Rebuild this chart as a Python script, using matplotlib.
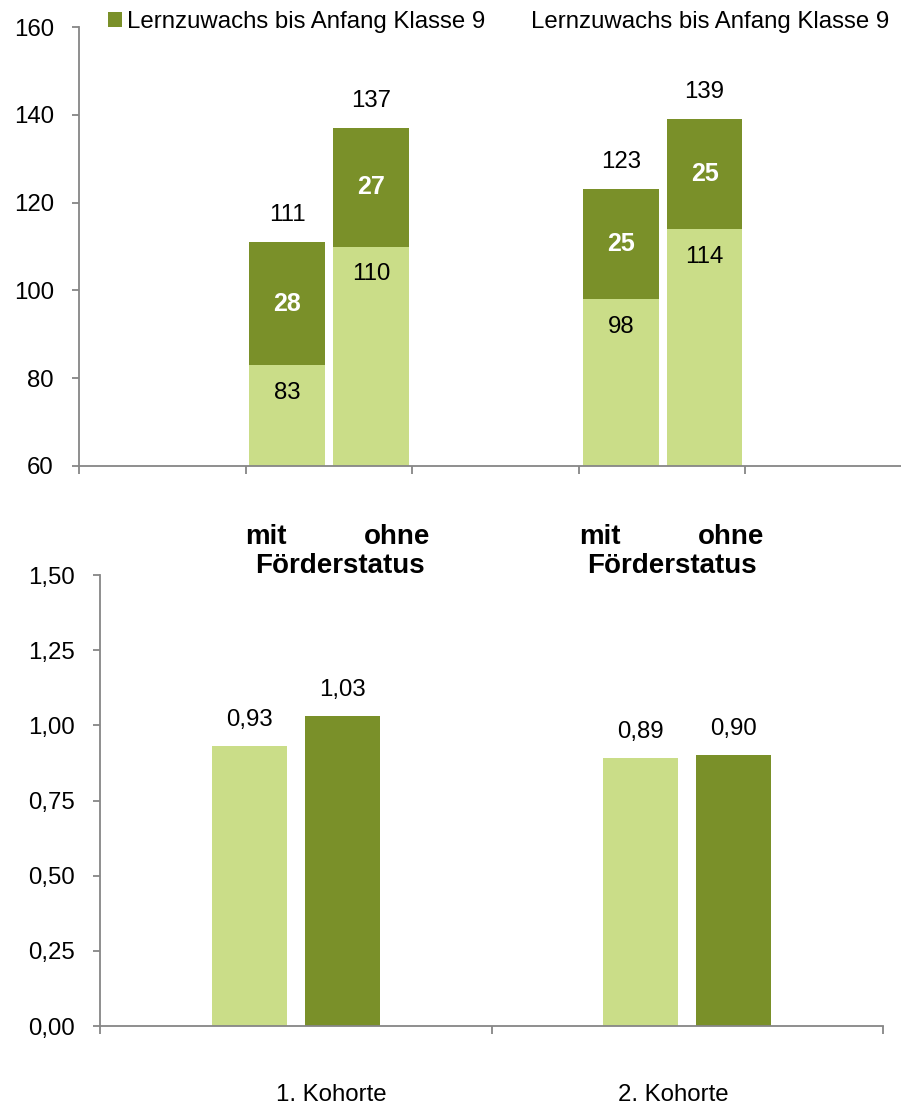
import numpy as np
import matplotlib
matplotlib.use('Agg')
import matplotlib.pyplot as plt
from matplotlib.patches import Patch
from matplotlib.ticker import FuncFormatter

# data
top_base = [83, 110, 98, 114]          # light part
top_gain = [28, 27, 25, 25]            # Lernzuwachs bis Anfang Klasse 9
top_pos = [1.25, 1.755, 3.253, 3.755]  # category slots on the top axis
legend_labels = ['Lernzuwachs bis Anfang Klasse 9', 'Lernzuwachs bis Anfang Klasse 9']

kohorten = ['1. Kohorte', '2. Kohorte']
mit_vals = [0.93, 0.89]
ohne_vals = [1.03, 0.90]

LIGHT = '#CADD88'
DARK = '#7A9029'
GRID = '#868686'

plt.rcParams['font.family'] = ['Liberation Sans', 'DejaVu Sans']
plt.rcParams['font.size'] = 17.3

fig = plt.figure(figsize=(9.01, 11.06), dpi=100)

def style(ax):
	for s in ['top', 'right']:
		ax.spines[s].set_visible(False)
	for s in ['left', 'bottom']:
		ax.spines[s].set_color(GRID)
		ax.spines[s].set_linewidth(1.3)
	ax.tick_params(axis='y', length=5, width=1.3, color=GRID, pad=13)
	ax.tick_params(axis='x', length=6, width=1.3, color=GRID, labelbottom=False)

# ---- top chart
ax1 = fig.add_axes([79/901, 1-466/1106, 833/901, 439/1106])
style(ax1)
w = 0.455
ax1.bar(top_pos, np.array(top_base) - 60, w, bottom=60, color=LIGHT)
ax1.bar(top_pos, top_gain, w, bottom=top_base, color=DARK)
ax1.set_ylim(60, 160)
ax1.set_xlim(0, 5)
ax1.set_yticks(range(60, 161, 20))
ax1.set_xticks(range(0, 6))

for x, b, g in zip(top_pos, top_base, top_gain):
	ax1.annotate(str(b), (x, b), xytext=(0, -20), textcoords='offset points',
		ha='center', va='center')
	ax1.annotate(str(g), (x, b + g/2), ha='center', va='center',
		color='white', fontweight='bold', fontsize=18)
	ax1.annotate(str(b + g), (x, b + g), xytext=(0, 19.5), textcoords='offset points',
		ha='center', va='center')

handles = [Patch(facecolor=DARK), Patch(facecolor='white')]
fig.legend(handles, legend_labels, loc='center left',
	bbox_to_anchor=(108/901, 1-22/1106), ncol=2, frameon=False,
	borderpad=0, borderaxespad=0, handlelength=0.6, handleheight=0.6,
	handletextpad=0.18, columnspacing=1.15)

# category labels of the top chart
for cx, mx, ox in [(340, 266, 397), (672, 600, 731)]:
	fig.text(mx/901, 1-544/1106, 'mit', ha='center', va='baseline',
		fontweight='bold', fontsize=20)
	fig.text(ox/901, 1-544/1106, 'ohne', ha='center', va='baseline',
		fontweight='bold', fontsize=20)
	fig.text(cx/901, 1-573/1106, 'Förderstatus', ha='center', va='baseline',
		fontweight='bold', fontsize=20)

# ---- bottom chart
ax2 = fig.add_axes([100/901, 1-1026/1106, 783/901, 451/1106])
style(ax2)
bw = 0.192
x = np.arange(len(kohorten)) + 0.5
b1 = ax2.bar(x - 0.1185, mit_vals, bw, color=LIGHT)
b2 = ax2.bar(x + 0.1185, ohne_vals, bw, color=DARK)
ax2.set_ylim(0, 1.5)
ax2.set_xlim(0, 2)
ax2.set_yticks(np.arange(0, 1.51, 0.25))
ax2.yaxis.set_major_formatter(FuncFormatter(lambda v, p: f'{v:.2f}'.replace('.', ',')))
ax2.set_xticks([0, 1, 2])
for bars in (b1, b2):
	for r in bars:
		v = r.get_height()
		ax2.annotate(f'{v:.2f}'.replace('.', ','), (r.get_x() + r.get_width()/2, v),
			xytext=(0, 19), textcoords='offset points', ha='center', va='center')

for lbl, cx in zip(kohorten, [331, 673]):
	fig.text(cx/901, 1-1101/1106, lbl, ha='center', va='baseline')

fig.savefig('out.png', dpi=100)
